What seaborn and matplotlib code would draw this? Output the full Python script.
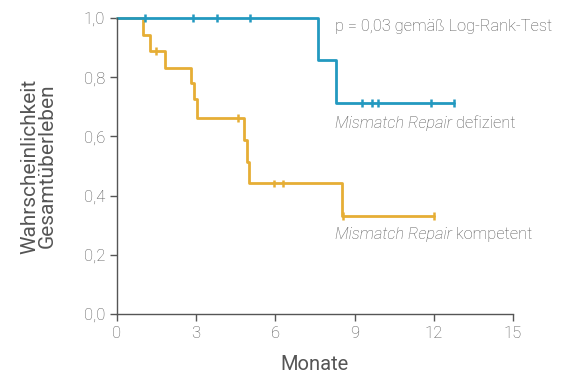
import numpy as np
import pandas as pd
import seaborn as sns
import matplotlib.pyplot as plt

# Kaplan-Meier step points (time in months, survival probability)
defizient_t = [0, 7.6, 8.3, 12.75]
defizient_s = [1.0, 0.857, 0.714, 0.714]
defizient_censor = [1.06, 2.88, 3.79, 5.04, 9.28, 9.66, 9.89, 11.9, 12.75]

kompetent_t = [0, 0.98, 1.27, 1.82, 2.79, 2.92, 3.02, 4.81, 4.91, 5.0, 8.51, 12.0]
kompetent_s = [1.0, 0.944, 0.889, 0.830, 0.781, 0.726, 0.661, 0.588, 0.515, 0.441, 0.331, 0.331]
kompetent_censor = [1.5, 4.57, 5.95, 6.3, 8.56, 12.0]

x_ticks = [0, 3, 6, 9, 12, 15]
y_ticks = [0.0, 0.2, 0.4, 0.6, 0.8, 1.0]

blue = '#2399c0'
yellow = '#e6ae35'
grey = '#555555'


def surv_at(times, surv, t):
    i = np.searchsorted(times, t, side='right') - 1
    return surv[i]


df_steps = pd.concat([
    pd.DataFrame({'t': defizient_t, 's': defizient_s, 'gruppe': 'defizient'}),
    pd.DataFrame({'t': kompetent_t, 's': kompetent_s, 'gruppe': 'kompetent'}),
])
df_cens = pd.concat([
    pd.DataFrame({'t': defizient_censor,
                  's': [surv_at(defizient_t, defizient_s, t) for t in defizient_censor],
                  'gruppe': 'defizient'}),
    pd.DataFrame({'t': kompetent_censor,
                  's': [surv_at(kompetent_t, kompetent_s, t) for t in kompetent_censor],
                  'gruppe': 'kompetent'}),
])

sns.set_style('ticks')
plt.rcParams['font.family'] = ['Roboto', 'DejaVu Sans']
plt.rcParams['font.weight'] = 'light'

fig = plt.figure(figsize=(5.67, 3.76), dpi=100)
ax = fig.add_axes([0.206, 0.165, 0.699, 0.787])

palette = {'kompetent': yellow, 'defizient': blue}
hue_order = ['kompetent', 'defizient']
sns.lineplot(data=df_steps, x='t', y='s', hue='gruppe', hue_order=hue_order,
             palette=palette, drawstyle='steps-post', linewidth=2.0,
             legend=False, ax=ax, clip_on=False, estimator=None)
sns.scatterplot(data=df_cens, x='t', y='s', hue='gruppe', hue_order=hue_order,
                palette=palette, marker='|', s=32, linewidth=1.8,
                legend=False, ax=ax, clip_on=False, zorder=3)

ax.set_xlim(0, 15)
ax.set_ylim(0, 1)
ax.set_xticks(x_ticks)
ax.set_yticks(y_ticks)
ax.set_xticklabels([str(v) for v in x_ticks])
ax.set_yticklabels([f'{v:.1f}'.replace('.', ',') for v in y_ticks])
ax.tick_params(direction='out', length=5, width=1, color=grey,
               labelcolor=grey, labelsize=12)
for side in ['left', 'bottom']:
    ax.spines[side].set_color(grey)
    ax.spines[side].set_linewidth(1.0)
sns.despine(ax=ax)

ax.set_xlabel('Monate', fontsize=14.5, color=grey, labelpad=10)
ax.set_ylabel('Wahrscheinlichkeit\nGesamtüberleben', fontsize=15, color=grey,
              labelpad=19, linespacing=0.92)

ax.text(8.26, 0.973, 'p = 0,03 gemäß Log-Rank-Test', fontsize=11.8,
        color=grey, va='center', ha='left')

for label, y in [('defizient', 0.642), ('kompetent', 0.27)]:
    t1 = ax.text(8.26, y, 'Mismatch Repair', fontsize=11.8, color=grey,
                 style='italic', va='center', ha='left')
    ax.annotate(' ' + label, xy=(1, 0), xycoords=t1, fontsize=11.8,
                color=grey, va='bottom', ha='left')

plt.savefig('out.png', dpi=100)
